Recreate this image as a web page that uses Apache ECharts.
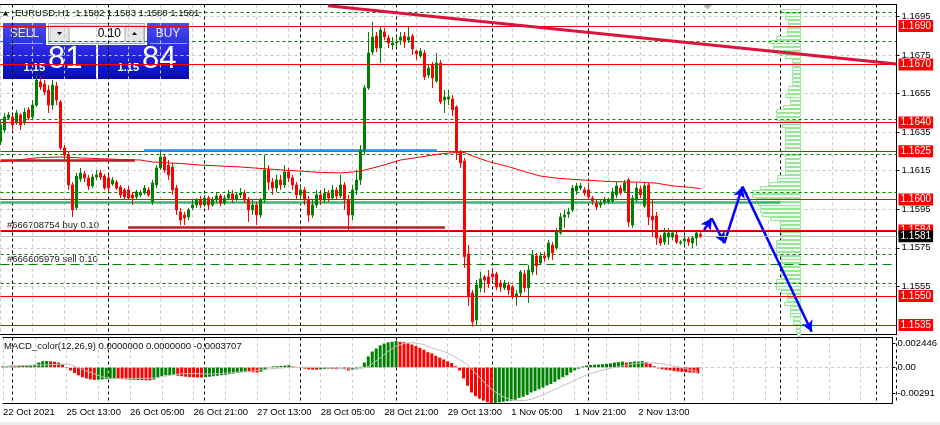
<!DOCTYPE html>
<html><head><meta charset="utf-8">
<script src="https://cdn.jsdelivr.net/npm/echarts@6/dist/echarts.min.js"></script>
<style>html,body{margin:0;padding:0;background:#fff}#c{width:940px;height:425px}</style>
</head><body><div id="c"></div>
<script>
const FONT = 'Tahoma, "Liberation Sans", Arial, sans-serif';

// ---------------- DATA ----------------
const symbol = 'EURUSD,H1';
const xTickLabels = ['22 Oct 2021','25 Oct 13:00','26 Oct 05:00','26 Oct 21:00','27 Oct 13:00','28 Oct 05:00','28 Oct 21:00','29 Oct 13:00','1 Nov 05:00','1 Nov 21:00','2 Nov 13:00'];
const xTickStep = 16;
const firstDayBar = 3;
const barsPerDay = 24;
const priceTicks = [1.1555,1.1575,1.1595,1.1615,1.1635,1.1655,1.1675,1.1695];
const macdTickLabels = ['-0.00291','0.00','0.002446'];
const MACD_MIN = -0.00291, MACD_MAX = 0.002446;

const open = [
1.16299,1.16361,1.16423,1.16428,1.16397,1.16439,1.16397,1.16465,1.16428,1.16490,
1.16610,1.16599,1.16568,1.16490,1.16589,1.16506,1.16268,1.16231,1.16076,1.15957,
1.16107,1.16133,1.16112,1.16071,1.16117,1.16138,1.16122,1.16112,1.16081,1.16091,
1.16065,1.16050,1.16050,1.16024,1.16014,1.16024,1.16034,1.16050,1.15988,1.16076,
1.16164,1.16221,1.16179,1.16169,1.16060,1.15936,1.15920,1.15910,1.15957,1.15972,
1.15998,1.15972,1.16008,1.15972,1.15998,1.16019,1.15982,1.16008,1.16029,1.16003,
1.16024,1.16034,1.15998,1.15946,1.15972,1.15920,1.15998,1.16154,1.16091,1.16060,
1.16102,1.16076,1.16143,1.16112,1.16076,1.16024,1.16050,1.15998,1.15920,1.15972,
1.16024,1.15998,1.16034,1.16008,1.16050,1.16019,1.16076,1.15998,1.15920,1.16050,
1.16102,1.16257,1.16579,1.16765,1.16848,1.16786,1.16869,1.16838,1.16802,1.16812,
1.16827,1.16848,1.16827,1.16848,1.16770,1.16745,1.16760,1.16646,1.16698,1.16615,
1.16708,1.16516,1.16522,1.16522,1.16480,1.16247,1.16200,1.15718,1.15516,1.15376,
1.15542,1.15599,1.15599,1.15614,1.15614,1.15568,1.15542,1.15557,1.15547,1.15500,
1.15516,1.15614,1.15542,1.15625,1.15708,1.15671,1.15708,1.15703,1.15765,1.15749,
1.15827,1.15910,1.15925,1.15946,1.16045,1.16060,1.16050,1.16050,1.16008,1.15982,
1.15972,1.15988,1.15988,1.15993,1.16024,1.16060,1.16045,1.16102,1.15868,1.15998,
1.16055,1.15967,1.16076,1.15915,1.15915,1.15801,1.15780,1.15806,1.15806,1.15817,
1.15775,1.15786,1.15796,1.15775,1.15801,1.15820];
const close = [
1.16387,1.16428,1.16439,1.16387,1.16449,1.16387,1.16454,1.16423,1.16490,1.16620,
1.16584,1.16558,1.16490,1.16594,1.16516,1.16268,1.16231,1.16076,1.15946,1.16122,
1.16138,1.16112,1.16071,1.16117,1.16128,1.16117,1.16060,1.16060,1.16102,1.16060,
1.16024,1.16014,1.16008,1.16008,1.16040,1.16034,1.16060,1.16024,1.16086,1.16164,
1.16221,1.16154,1.16128,1.16050,1.15946,1.15894,1.15905,1.15946,1.15972,1.15998,
1.15972,1.16008,1.15972,1.15998,1.16019,1.15982,1.16008,1.16029,1.16003,1.16024,
1.16034,1.15998,1.15946,1.15972,1.15920,1.15998,1.16154,1.16091,1.16060,1.16102,
1.16076,1.16143,1.16112,1.16076,1.16024,1.16050,1.15998,1.15920,1.15972,1.16024,
1.15998,1.16034,1.16008,1.16050,1.16019,1.16076,1.15998,1.15920,1.16050,1.16102,
1.16257,1.16579,1.16760,1.16843,1.16786,1.16879,1.16843,1.16812,1.16812,1.16817,
1.16843,1.16817,1.16843,1.16781,1.16755,1.16770,1.16636,1.16682,1.16630,1.16708,
1.16506,1.16532,1.16532,1.16465,1.16247,1.16190,1.15703,1.15495,1.15366,1.15557,
1.15589,1.15583,1.15563,1.15599,1.15547,1.15547,1.15568,1.15531,1.15495,1.15511,
1.15625,1.15542,1.15635,1.15713,1.15656,1.15708,1.15697,1.15775,1.15723,1.15832,
1.15910,1.15920,1.15936,1.16060,1.16071,1.16071,1.16034,1.16014,1.15993,1.15962,
1.15982,1.15998,1.15998,1.16040,1.16071,1.16034,1.16086,1.15884,1.16008,1.16060,
1.16024,1.16071,1.15910,1.15894,1.15801,1.15775,1.15827,1.15827,1.15827,1.15780,
1.15780,1.15796,1.15780,1.15801,1.15827,1.15810];
const high = [
1.16413,1.16449,1.16454,1.16439,1.16465,1.16449,1.16475,1.16480,1.16516,1.16646,
1.16641,1.16620,1.16594,1.16620,1.16610,1.16516,1.16283,1.16247,1.16091,1.16138,
1.16164,1.16148,1.16128,1.16133,1.16154,1.16154,1.16133,1.16128,1.16117,1.16102,
1.16076,1.16060,1.16071,1.16040,1.16050,1.16050,1.16076,1.16065,1.16102,1.16179,
1.16257,1.16231,1.16205,1.16190,1.16076,1.15957,1.15936,1.15957,1.15998,1.16008,
1.16019,1.16024,1.16019,1.16014,1.16040,1.16029,1.16024,1.16050,1.16050,1.16040,
1.16060,1.16050,1.16014,1.15998,1.15988,1.16008,1.16231,1.16179,1.16112,1.16128,
1.16128,1.16179,1.16164,1.16128,1.16091,1.16071,1.16065,1.16019,1.15998,1.16050,
1.16050,1.16060,1.16050,1.16076,1.16065,1.16128,1.16091,1.16024,1.16076,1.16154,
1.16283,1.16594,1.16869,1.16921,1.16869,1.16895,1.16890,1.16853,1.16843,1.16838,
1.16869,1.16869,1.16895,1.16859,1.16776,1.16786,1.16776,1.16698,1.16713,1.16760,
1.16724,1.16568,1.16568,1.16542,1.16490,1.16257,1.16216,1.15765,1.15531,1.15583,
1.15625,1.15609,1.15635,1.15635,1.15625,1.15583,1.15583,1.15573,1.15557,1.15531,
1.15635,1.15635,1.15661,1.15739,1.15723,1.15728,1.15728,1.15791,1.15780,1.15853,
1.15931,1.15946,1.15957,1.16076,1.16086,1.16086,1.16065,1.16086,1.16019,1.15998,
1.15998,1.16014,1.16008,1.16060,1.16091,1.16076,1.16102,1.16112,1.16024,1.16086,
1.16071,1.16086,1.16086,1.15998,1.15936,1.15817,1.15853,1.15853,1.15842,1.15832,
1.15791,1.15811,1.15806,1.15811,1.15837,1.15830];
const low = [
1.16283,1.16345,1.16413,1.16361,1.16387,1.16361,1.16387,1.16413,1.16418,1.16480,
1.16568,1.16542,1.16449,1.16465,1.16490,1.16257,1.16205,1.16050,1.15910,1.15946,
1.16091,1.16091,1.16050,1.16060,1.16102,1.16102,1.16050,1.16040,1.16071,1.16050,
1.16008,1.15998,1.15998,1.15972,1.16003,1.16014,1.16024,1.16014,1.15972,1.16060,
1.16154,1.16138,1.16102,1.16024,1.15920,1.15868,1.15868,1.15894,1.15946,1.15957,
1.15957,1.15962,1.15946,1.15962,1.15982,1.15967,1.15972,1.15998,1.15982,1.15993,
1.16008,1.15982,1.15884,1.15920,1.15868,1.15905,1.15982,1.16050,1.16024,1.16040,
1.16050,1.16060,1.16091,1.16050,1.15998,1.15998,1.15972,1.15884,1.15905,1.15957,
1.15972,1.15982,1.15988,1.15998,1.15998,1.16008,1.15946,1.15842,1.15894,1.16024,
1.16076,1.16231,1.16568,1.16750,1.16765,1.16708,1.16827,1.16786,1.16776,1.16791,
1.16802,1.16786,1.16812,1.16750,1.16724,1.16734,1.16620,1.16630,1.16579,1.16605,
1.16496,1.16449,1.16490,1.16433,1.16205,1.16164,1.15646,1.15449,1.15340,1.15350,
1.15521,1.15516,1.15542,1.15583,1.15531,1.15521,1.15531,1.15505,1.15485,1.15449,
1.15495,1.15521,1.15464,1.15609,1.15609,1.15661,1.15677,1.15687,1.15687,1.15739,
1.15817,1.15853,1.15905,1.15936,1.16024,1.16050,1.16019,1.15998,1.15972,1.15946,
1.15957,1.15972,1.15977,1.15982,1.16008,1.16024,1.16034,1.15858,1.15853,1.15988,
1.16008,1.15957,1.15868,1.15806,1.15765,1.15760,1.15765,1.15765,1.15791,1.15770,
1.15765,1.15760,1.15760,1.15749,1.15760,1.15800];

const maPts = [[0,1.16197],[10,1.16218],[15,1.16221],[20,1.16216],[30,1.16208],[35,1.16205],[38,1.16195],[45,1.16187],[50,1.16179],[60,1.16169],[70,1.16154],[80,1.16141],[85,1.16138],[88,1.16143],[90,1.16148],[95,1.16174],[100,1.16205],[105,1.16221],[110,1.16237],[113,1.16243],[116,1.16244],[118,1.16226],[122,1.16197],[127,1.16171],[131,1.16145],[135,1.16122],[139,1.16111],[145,1.16102],[153,1.16093],[160,1.16090],[164,1.16085],[168,1.16071],[172,1.16064],[175,1.16057]];

const MACD_UNIT = 0.0001;
const macdHist = [
1.0,1.2,1.5,1.4,1.6,1.5,1.8,1.9,2.3,4.0, 5.0,5.2,5.0,4.6,4.0,2.5,-0.5,-2.5,-4.5,-6.5,
-8,-9,-9.8,-10.2,-10.0,-9.8,-9.5,-9.3,-9.0,-9.3, -9.6,-9.8,-10.0,-10.2,-10.3,-10.4,-10.5,-10.6,-10.0,-8.5,
-7.0,-6.5,-6.2,-6.0,-6.8,-7.2,-7.6,-7.9,-8.1,-8.2, -8.3,-8.0,-7.6,-7.2,-6.8,-6.4,-6.0,-5.5,-5.0,-4.5,
-3.8,-3.5,-3.8,-4.0,-4.2,-3.5,-2.0,0.3,0.8,1.0, 1.2,1.5,1.8,0.8,0.0,-0.6,-1.0,-1.6,-1.8,-1.9,
-1.5,-1.2,-1.0,-1.2,-1.5,-1.0,-1.5,-2.5,-2.0,-1.0, 0.5,4,9,13,15.5,18,19.5,20.5,21,21.5,
20.9,20.6,20.0,18.7,17.5,16.0,14.5,12.5,11.5,9.5, 8.0,6.5,5.0,3.6,1.0,-2.5,-9.0,-15,-20.5,-23.5,
-25.5,-27.2,-28.5,-29.1,-29.0,-28.6,-28.0,-27.5,-27.2,-26.5, -25.0,-24.0,-22.5,-20.5,-19.3,-17.8,-16.5,-14.8,-13.5,-11.8,
-9.8,-8.0,-6.5,-4.2,-2.4,-1.0,0.8,1.5,2.0,2.2, 2.4,2.6,2.8,3.3,4.0,4.3,4.8,4.0,4.3,4.8,
4.9,5.2,4.5,3.0,1.0,-0.8,-1.5,-2.0,-2.3,-3.0, -3.3,-3.6,-4.0,-4.2,-4.3,-4.8];
const signalPts = [[0,0.5],[5,1.5],[10,2.0],[15,2.6],[17,2.3],[20,-1.5],[23,-5.4],[25,-7.8],[27,-9.2],[30,-9.2],[35,-9.0],[38,-8.8],[40,-7.6],[42,-6.5],[45,-5.2],[48,-5.0],[52,-5.5],[55,-5.0],[58,-4.2],[62,-3.3],[65,-2.0],[68,-1.0],[72,0],[76,0.2],[80,0],[83,-0.5],[88,-1.4],[90,-1.2],[92,0.7],[95,7.7],[97,13.2],[99,17.3],[101,19.5],[103,20.2],[106,18.7],[108,16.0],[112,11.9],[115,6.3],[117,2.2],[120,-8],[122,-15],[124,-20],[126,-24],[128,-26.5],[130,-27.2],[132,-26.8],[134,-25],[136,-22.5],[138,-19.5],[140,-16.5],[142,-13.5],[144,-10.5],[146,-7.5],[148,-5],[150,-3],[152,-1.5],[155,0.5],[158,2.5],[161,3.8],[164,3.7],[167,2.5],[170,0.5],[173,-2],[175,-3.7]];

const levelPrices = [1.1690,1.1670,1.1640,1.1625,1.1600,1.1584,1.1550,1.1535];
const orderLevels = [1.16971,1.16820,1.16416,1.16236,1.16038,1.15718,1.15566];
const sellLevel = 1.15664, buyLevel = 1.15835;
const buyLabel = '#666708754 buy 0.10', sellLabel = '#666605979 sell 0.10';
const trendLine = [[81.9,1.17005],[224,1.16703]];
const blueLevel = [[35.9,1.16258],[109.1,1.16258]];
const brownLevel1 = [[0,1.16203],[33.6,1.16203]];
const brownLevel2 = [[31.9,1.15855],[111.1,1.15855]];
const tealLevel = [[0,1.15985],[195,1.15985]];
const arrowPath = [[175.9,1.15842],[177.8,1.15903],[180.95,1.15774],[185.5,1.16067],[202.8,1.15315]];

const PROFILE_STEP = 0.0002;
const profileLevels = [1.1698,1.1696,1.1694,1.1692,1.1690,1.1688,1.1686,1.1684,1.1682,1.1680,1.1678,1.1676,1.1674,1.1672,1.1670,1.1668,1.1666,1.1664,1.1662,1.1660,1.1658,1.1656,1.1654,1.1652,1.1650,1.1648,1.1646,1.1644,1.1642,1.1640,1.1638,1.1636,1.1634,1.1632,1.1630,1.1628,1.1626,1.1624,1.1622,1.1620,1.1618,1.1616,1.1614,1.1612,1.1610,1.1608,1.1606,1.1604,1.1602,1.1600,1.1598,1.1596,1.1594,1.1592,1.1590,1.1588,1.1586,1.1584,1.1582,1.1580,1.1578,1.1576,1.1574,1.1572,1.1570,1.1568,1.1566,1.1564,1.1562,1.1560,1.1558,1.1556,1.1554,1.1552,1.1550,1.1548,1.1546,1.1544,1.1542,1.1540,1.1538,1.1536,1.1534,1.1532,1.1530];
const profileVol = [19,15,15,12,12,13,13,24,31,27,27,23,15,8,8,8,8,8,8,8,12,12,15,10,10,17,24,24,24,18,18,15,15,15,15,15,15,19,15,15,15,15,15,23,23,32,40,48,48,44,42,40,40,38,30,20,20,19,19,19,24,24,24,24,19,19,19,19,19,19,24,24,24,19,13,13,16,10,10,10,7,7,4,4,3];

// ---------------- LAYOUT ----------------
const BAR_PX = 4;
const GL = 0.5, GW = 896, SLOTS = 224;
const MAIN_TOP = 4.5, MAIN_H = 330;
const MACD_TOP = 337.5, MACD_H = 65.5;
const PRICE_MAX = 1.170115, PRICE_MIN = 1.153004;
const PROFILE_RIGHT_PX = 800;
const PREC = 6;

const GREEN = '#008000', RED = '#ff0000';
const last = open.length - 1;
const titleText = symbol + '  ' + [open[last], high[last], low[last], close[last]].map(v => v.toFixed(4)).join(' ');

const macdPerPx = (MACD_MAX - MACD_MIN) / MACD_H;
const macdTickPos = [MACD_MIN + 9.5 * macdPerPx, 0, MACD_MAX - 5.8 * macdPerPx];

const chart = echarts.init(document.getElementById('c'), null, {renderer: 'canvas', width: 940, height: 425});

const axisFont = {fontSize: 9.5, fontFamily: FONT, color: '#000'};
const grayDash = {show: true, lineStyle: {color: '#c8c8c8', width: 1, type: [3, 3]}};
const blackDash = {show: true, lineStyle: {color: '#000', width: 1, type: [3, 3]}};

function seg(a, b, style) { return [{coord: a, lineStyle: style}, {coord: b}]; }

const option = {
  animation: false,
  backgroundColor: '#fff',
  textStyle: {fontFamily: FONT},
  grid: [
    {left: GL, width: GW, top: MAIN_TOP, height: MAIN_H},
    {left: GL, width: GW, top: MACD_TOP, height: MACD_H},
    {left: GL + firstDayBar * BAR_PX, width: GW - firstDayBar * BAR_PX, top: MAIN_TOP, height: MAIN_H},
    {left: GL + firstDayBar * BAR_PX, width: GW - firstDayBar * BAR_PX, top: MACD_TOP, height: MACD_H}
  ],
  xAxis: [
    {gridIndex: 0, type: 'value', min: 0, max: SLOTS, interval: 8,
     axisLine: {show: true, onZero: false, lineStyle: {color: '#000'}}, axisTick: {show: false}, axisLabel: {show: false}, splitLine: grayDash},
    {gridIndex: 1, type: 'value', min: 0, max: SLOTS, interval: 8,
     axisLine: {show: true, onZero: false, lineStyle: {color: '#000'}}, axisTick: {show: false},
     axisLabel: Object.assign({show: true, customValues: xTickLabels.map((_, k) => k * xTickStep),
       formatter: v => xTickLabels[Math.round(v / xTickStep)] || '', align: 'left', margin: 4}, axisFont),
     splitLine: grayDash},
    {gridIndex: 0, type: 'value', position: 'top', inverse: true,
     min: -(GL + GW - PROFILE_RIGHT_PX), max: PROFILE_RIGHT_PX - GL,
     axisLine: {show: true, onZero: false, lineStyle: {color: '#000'}}, axisTick: {show: false}, axisLabel: {show: false}, splitLine: {show: false}},
    {gridIndex: 2, type: 'value', min: 0, max: SLOTS - firstDayBar, interval: barsPerDay,
     axisLine: {show: false}, axisTick: {show: false}, axisLabel: {show: false}, splitLine: blackDash},
    {gridIndex: 3, type: 'value', min: 0, max: SLOTS - firstDayBar, interval: barsPerDay,
     axisLine: {show: false}, axisTick: {show: false}, axisLabel: {show: false}, splitLine: blackDash},
    {gridIndex: 1, type: 'value', position: 'top', min: 0, max: SLOTS,
     axisLine: {show: true, onZero: false, lineStyle: {color: '#000'}}, axisTick: {show: false}, axisLabel: {show: false}, splitLine: {show: false}}
  ],
  yAxis: [
    {gridIndex: 0, type: 'value', position: 'right', min: PRICE_MIN, max: PRICE_MAX,
     axisLine: {show: true, onZero: false, lineStyle: {color: '#000'}},
     axisTick: {show: true, customValues: priceTicks, length: 3, lineStyle: {color: '#000'}},
     axisLabel: Object.assign({customValues: priceTicks, formatter: v => v.toFixed(4), margin: 5}, axisFont),
     splitLine: grayDash},
    {gridIndex: 1, type: 'value', position: 'right', min: MACD_MIN, max: MACD_MAX,
     axisLine: {show: true, onZero: false, lineStyle: {color: '#000'}},
     axisTick: {show: true, customValues: macdTickPos, length: 3, lineStyle: {color: '#000'}},
     axisLabel: Object.assign({customValues: macdTickPos, formatter: (v) => {
        let k = 0, d = Infinity; macdTickPos.forEach((p, i) => { if (Math.abs(p - v) < d) { d = Math.abs(p - v); k = i; } });
        return macdTickLabels[k]; }, margin: 5}, axisFont),
     splitLine: {show: false}},
    {gridIndex: 2, type: 'value', min: 0, max: 1, show: false},
    {gridIndex: 3, type: 'value', min: 0, max: 1, show: false}
  ],
  series: [
    {
      type: 'custom', name: 'profile', xAxisIndex: 2, yAxisIndex: 0, z: 1, silent: true,
      data: profileLevels.map((p, k) => [profileVol[k], p]),
      renderItem: (params, api) => {
        const v = api.value(0), p = api.value(1);
        const a = api.coord([v, p + PROFILE_STEP / 2]);
        const b = api.coord([0, p - PROFILE_STEP / 2]);
        return {type: 'rect', shape: {x: Math.round(a[0]) + 0.5, y: Math.round(a[1]) + 0.5, width: Math.round(b[0] - a[0]), height: Math.max(1, Math.round(b[1] - a[1]) - 1)},
          style: {fill: '#f4fdf4', stroke: '#98e698', lineWidth: 1}};
      }
    },
    {
      type: 'line', name: 'levels', xAxisIndex: 0, yAxisIndex: 0, data: [], z: 3,
      markLine: {silent: true, precision: PREC, symbol: ['none', 'none'], animation: false,
        lineStyle: {color: RED, width: 1, type: 'solid'},
        label: {show: true, position: 'end', distance: 2, formatter: p => Number(p.value).toFixed(4),
          color: '#fff', backgroundColor: RED, padding: [1, 2, 0, 2], fontSize: 10, fontFamily: FONT, lineHeight: 11},
        data: levelPrices.map(v => ({yAxis: v}))}
    },
    {
      type: 'line', name: 'orders', xAxisIndex: 0, yAxisIndex: 0, data: [], z: 3,
      markLine: {silent: true, precision: PREC, symbol: ['none', 'none'], animation: false, label: {show: false},
        lineStyle: {color: GREEN, width: 1, type: [3, 3]},
        data: orderLevels.map(v => ({yAxis: v})).concat([
          {yAxis: sellLevel, lineStyle: {color: GREEN, width: 1, type: [9, 5]}},
          {yAxis: buyLevel, lineStyle: {color: '#006400', width: 1, type: 'solid'}}
        ])}
    },
    {
      type: 'line', name: 'drawings', xAxisIndex: 0, yAxisIndex: 0, data: [], z: 4,
      markLine: {silent: true, precision: PREC, symbol: ['none', 'none'], animation: false, label: {show: false},
        data: [
          seg(tealLevel[0], tealLevel[1], {color: '#3cb371', width: 2.5, type: 'solid'}),
          seg(brownLevel1[0], brownLevel1[1], {color: '#b22222', width: 2.5, type: 'solid'}),
          seg(brownLevel2[0], brownLevel2[1], {color: '#b22222', width: 2.5, type: 'solid'}),
          seg(blueLevel[0], blueLevel[1], {color: '#1e90ff', width: 2.5, type: 'solid'}),
          seg(trendLine[0], trendLine[1], {color: '#dc143c', width: 3, type: 'solid'})
        ]}
    },
    {
      type: 'candlestick', name: 'EURUSD', xAxisIndex: 0, yAxisIndex: 0, z: 5,
      barWidth: 2, encode: {x: 0, y: [1, 2, 3, 4]},
      data: open.map((o, i) => [i, o, close[i], low[i], high[i]]),
      itemStyle: {color: GREEN, color0: RED, borderColor: GREEN, borderColor0: RED, borderWidth: 1}
    },
    {
      type: 'line', name: 'MA', xAxisIndex: 0, yAxisIndex: 0, z: 6, symbol: 'none',
      data: maPts, lineStyle: {color: RED, width: 1}
    },
    {
      type: 'line', name: 'arrows', xAxisIndex: 0, yAxisIndex: 0, data: [], z: 7,
      markLine: {silent: true, precision: PREC, symbol: ['none', 'arrow'], symbolSize: [9, 11], animation: false, label: {show: false},
        lineStyle: {color: '#0000ff', width: 2.5, type: 'solid'},
        data: arrowPath.slice(1).map((p, k) => [{coord: arrowPath[k]}, {coord: p}])}
    },
    {
      type: 'line', name: 'bid', xAxisIndex: 0, yAxisIndex: 0, data: [], z: 8,
      markLine: {silent: true, precision: PREC, symbol: ['none', 'none'], animation: false,
        lineStyle: {color: '#c0c0c0', width: 1, type: 'solid'},
        label: {show: true, position: 'end', distance: 2, formatter: p => Number(p.value).toFixed(4),
          color: '#fff', backgroundColor: '#000', padding: [1, 2, 0, 2], fontSize: 10, fontFamily: FONT, lineHeight: 11},
        data: [{yAxis: close[last]}]}
    },
    {
      type: 'bar', name: 'MACD', xAxisIndex: 1, yAxisIndex: 1, barWidth: 3, z: 3,
      data: macdHist.map((v, i) => ({value: [i, v * MACD_UNIT],
        itemStyle: {color: (i > 0 && v < macdHist[i - 1]) ? RED : GREEN}})),
      markLine: {silent: true, precision: PREC, symbol: ['none', 'none'], animation: false, label: {show: false},
        lineStyle: {color: '#c8c8c8', width: 1, type: [3, 3]}, data: [{yAxis: 0}]}
    },
    {
      type: 'line', name: 'signal', xAxisIndex: 1, yAxisIndex: 1, z: 4, symbol: 'none',
      data: signalPts.map(([j, v]) => [j, v * MACD_UNIT]), lineStyle: {color: '#c0c0c0', width: 1}
    }
  ],
  graphic: [
    {type: 'rect', shape: {x: 0, y: 422, width: 940, height: 3}, style: {fill: '#ececec'}, silent: true},
    {type: 'polygon', shape: {points: [[3, 15.5], [8, 15.5], [5.5, 11]]}, style: {fill: '#000'}},
    {type: 'text', x: 15, y: 13, style: {text: titleText, font: '9.5px ' + FONT, fill: '#000', verticalAlign: 'middle'}},
    {type: 'polygon', shape: {points: [[703, 5], [712, 5], [707.5, 9.5]]}, style: {fill: '#b4b4b4'}},
    {type: 'text', x: 7, y: 225, style: {text: buyLabel, font: '9.5px ' + FONT, fill: '#202020', verticalAlign: 'middle'}},
    {type: 'text', x: 7, y: 259, style: {text: sellLabel, font: '9.5px ' + FONT, fill: '#202020', verticalAlign: 'middle'}},
    {type: 'text', x: 4, y: 346, style: {text: 'MACD_color(12,26,9) 0.0000000 0.0000000 -0.0003707', font: '9.5px ' + FONT, fill: '#101010', verticalAlign: 'middle'}},
    {type: 'group', children: [
      {type: 'rect', shape: {x: 3, y: 23, width: 43, height: 22}, style: {fill: new echarts.graphic.LinearGradient(0, 0, 0, 1, [{offset: 0, color: '#4b4bf2'}, {offset: 1, color: '#2f2fdc'}])}},
      {type: 'rect', shape: {x: 147, y: 23, width: 42, height: 22}, style: {fill: new echarts.graphic.LinearGradient(0, 0, 0, 1, [{offset: 0, color: '#4b4bf2'}, {offset: 1, color: '#2f2fdc'}])}},
      {type: 'line', shape: {x1: 10, y1: 43.5, x2: 43, y2: 43.5}, style: {stroke: '#9a9aff', lineWidth: 1}},
      {type: 'line', shape: {x1: 150, y1: 43.5, x2: 187, y2: 43.5}, style: {stroke: '#9a9aff', lineWidth: 1}},
      {type: 'text', x: 24.5, y: 34, style: {text: 'SELL', font: '12px ' + FONT, fill: '#e6e6ff', align: 'center', verticalAlign: 'middle'}},
      {type: 'text', x: 168, y: 34, style: {text: 'BUY', font: '12px ' + FONT, fill: '#e6e6ff', align: 'center', verticalAlign: 'middle'}},
      {type: 'rect', shape: {x: 48.5, y: 23.5, width: 96, height: 20}, style: {fill: '#f0f0f0', stroke: '#a8a8a8', lineWidth: 1}},
      {type: 'rect', shape: {x: 69.5, y: 25.5, width: 55, height: 16}, style: {fill: '#fff', stroke: '#d0d0d0', lineWidth: 1}},
      {type: 'rect', shape: {x: 50.5, y: 25.5, width: 18, height: 16}, style: {fill: '#e6e6e6', stroke: '#c8c8c8', lineWidth: 1}},
      {type: 'rect', shape: {x: 125.5, y: 25.5, width: 18, height: 16}, style: {fill: '#e6e6e6', stroke: '#c8c8c8', lineWidth: 1}},
      {type: 'polygon', shape: {points: [[57, 32], [62, 32], [59.5, 35]]}, style: {fill: '#000'}},
      {type: 'polygon', shape: {points: [[132, 35], [137, 35], [134.5, 32]]}, style: {fill: '#000'}},
      {type: 'text', x: 121, y: 34, style: {text: '0.10', font: '12px ' + FONT, fill: '#000', align: 'right', verticalAlign: 'middle'}},
      {type: 'rect', shape: {x: 3, y: 45, width: 93, height: 34}, style: {fill: new echarts.graphic.LinearGradient(0, 0, 0, 1, [{offset: 0, color: '#2e2ee8'}, {offset: 1, color: '#0a0ab4'}])}},
      {type: 'rect', shape: {x: 98, y: 45, width: 91, height: 34}, style: {fill: new echarts.graphic.LinearGradient(0, 0, 0, 1, [{offset: 0, color: '#2e2ee8'}, {offset: 1, color: '#0a0ab4'}])}},
      {type: 'text', x: 45, y: 73, style: {text: '1.15', font: 'bold 11px ' + FONT, fill: '#fff', align: 'right', verticalAlign: 'bottom'}},
      {type: 'text', x: 48, y: 75, style: {text: '81', font: '31px ' + FONT, fill: '#fff', align: 'left', verticalAlign: 'bottom'}},
      {type: 'text', x: 139, y: 73, style: {text: '1.15', font: 'bold 11px ' + FONT, fill: '#fff', align: 'right', verticalAlign: 'bottom'}},
      {type: 'text', x: 142, y: 75, style: {text: '84', font: '31px ' + FONT, fill: '#fff', align: 'left', verticalAlign: 'bottom'}}
    ]}
  ]
};
chart.setOption(option);
</script>
</body></html>
